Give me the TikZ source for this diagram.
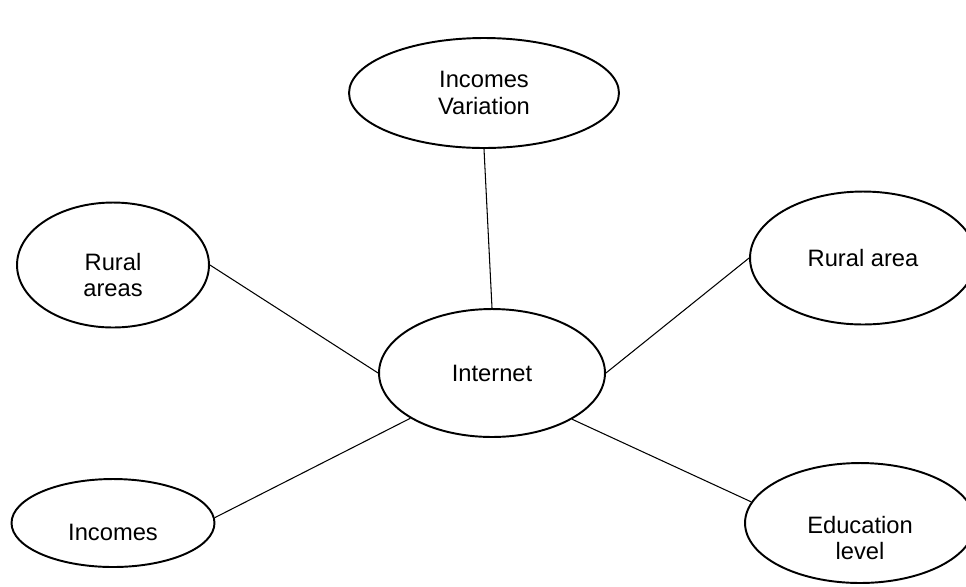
\documentclass[tikz,border=0pt]{standalone}
\usepackage{fontspec}
\setmainfont{Liberation Sans}
\usetikzlibrary{shapes.geometric}

\tikzset{
  bubble/.style={ellipse, draw, line width=1.1pt, inner sep=0pt, align=center,
    font=\fontsize{13.5}{15.3}\selectfont},
  txt/.style={inner sep=0pt, align=center, font=\fontsize{13.5}{15.3}\selectfont},
  link/.style={line width=0.6pt}
}

\begin{document}
\begin{tikzpicture}[x=0.02cm, y=-0.02cm]
\useasboundingbox (0,0) rectangle (966,586);

\node[bubble, minimum width=5.4cm, minimum height=2.2cm] (iv) at (484,93) {Incomes\\Variation};
\node[bubble, minimum width=4.52cm, minimum height=2.56cm] (inet) at (492,373) {Internet};
\node[bubble, minimum width=4.52cm, minimum height=2.66cm] (ra) at (863,258) {Rural area};

\node[bubble, minimum width=3.84cm, minimum height=2.5cm] (ras) at (113,265) {};
\node[txt] (ras-t) at (113,275) {Rural\\areas};

\node[bubble, minimum width=4.06cm, minimum height=1.76cm] (inc) at (113,523) {};
\node[txt] (inc-t) at (113,532) {Incomes};

\node[bubble, minimum width=4.6cm, minimum height=2.4cm] (edu) at (860,523) {};
\node[txt] (edu-t) at (860,538) {Education\\level};

\draw[link] (iv.south) -- (inet.north);
\draw[link] (ras.east) -- (inet.west);
\draw[link] (ra.west) -- (inet.east);
\draw[link] (inc.3) -- (inet.-151);
\draw[link] (edu.169) -- (inet.-30);

\end{tikzpicture}
\end{document}
